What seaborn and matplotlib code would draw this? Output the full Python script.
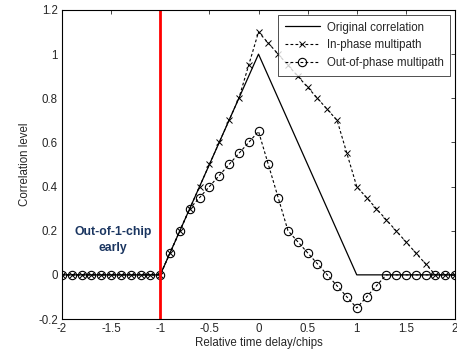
import numpy as np
import pandas as pd
import matplotlib
matplotlib.use('Agg')
import matplotlib.pyplot as plt
import seaborn as sns

# relative delay in chips, -2 .. 2 step 0.1
delay = np.round(np.arange(-2, 2.01, 0.1), 1)

original = [0.0] * 11 + [0.1, 0.2, 0.3, 0.4, 0.5, 0.6, 0.7, 0.8, 0.9, 1.0,
                         0.9, 0.8, 0.7, 0.6, 0.5, 0.4, 0.3, 0.2, 0.1, 0.0] + [0.0] * 10
in_phase = [0.0] * 11 + [0.1, 0.2, 0.3, 0.4, 0.5, 0.6, 0.7, 0.8, 0.95, 1.1,
                         1.05, 1.0, 0.95, 0.9, 0.85, 0.8, 0.75, 0.7, 0.55, 0.4,
                         0.35, 0.3, 0.25, 0.2, 0.15, 0.1, 0.05, 0.0, 0.0, 0.0]
out_phase = [0.0] * 11 + [0.1, 0.2, 0.3, 0.35, 0.4, 0.45, 0.5, 0.55, 0.6, 0.65,
                          0.5, 0.35, 0.2, 0.15, 0.1, 0.05, 0.0, -0.05, -0.1, -0.15,
                          -0.1, -0.05, 0.0, 0.0, 0.0, 0.0, 0.0, 0.0, 0.0, 0.0]

df = pd.DataFrame({'delay': delay, 'original': original,
                   'in_phase': in_phase, 'out_phase': out_phase})

sns.set_style('white')
plt.rcParams['font.family'] = ['Liberation Sans', 'DejaVu Sans']
plt.rcParams['xtick.direction'] = 'in'
plt.rcParams['ytick.direction'] = 'in'

fig = plt.figure(figsize=(4.57, 3.53), dpi=100)
ax = fig.add_axes([0.1357, 0.0963, 0.8599, 0.8754])

dash = (0, (2.5, 2))
sns.lineplot(data=df, x='delay', y='original', ax=ax, color='black', lw=0.9,
             label='Original correlation')
sns.lineplot(data=df, x='delay', y='in_phase', ax=ax, color='black', lw=0.8,
             marker='x', markersize=4, markeredgewidth=0.7,
             markeredgecolor='black', dashes=False,
             linestyle=dash, label='In-phase multipath')
sns.lineplot(data=df, x='delay', y='out_phase', ax=ax, color='black', lw=0.8,
             marker='o', markersize=6, markerfacecolor='none',
             markeredgecolor='black', markeredgewidth=0.8, dashes=False,
             linestyle=dash, label='Out-of-phase multipath')

ax.axvline(-1, color='red', lw=2)
ax.text(-1.48, 0.157, 'Out-of-1-chip\nearly', ha='center', va='center',
        fontsize=8.8, fontweight='bold', color='#1a3560', linespacing=1.4)

ax.set_xlim(-2, 2)
ax.set_ylim(-0.2, 1.2)
ax.set_xticks(np.arange(-2, 2.01, 0.5))
ax.set_xticklabels(['-2', '-1.5', '-1', '-0.5', '0', '0.5', '1', '1.5', '2'])
ax.set_yticks(np.arange(-0.2, 1.21, 0.2))
ax.set_yticklabels(['-0.2', '0', '0.2', '0.4', '0.6', '0.8', '1', '1.2'])
ax.tick_params(labelsize=8.3, length=3, width=0.6, top=True, right=True,
               pad=3)
ax.set_xlabel('Relative time delay/chips', fontsize=8.3, labelpad=1)
ax.set_ylabel('Correlation level', fontsize=8.3, labelpad=5)
for s in ax.spines.values():
    s.set_color('black')
    s.set_linewidth(0.8)

leg = ax.legend(loc='upper right', fontsize=8.3, frameon=True, fancybox=False,
                edgecolor='black', borderaxespad=0.4, handlelength=3.0,
                handletextpad=0.6, labelspacing=0.5, borderpad=0.6)
leg.get_frame().set_linewidth(0.6)

plt.savefig('out.png', dpi=100)
